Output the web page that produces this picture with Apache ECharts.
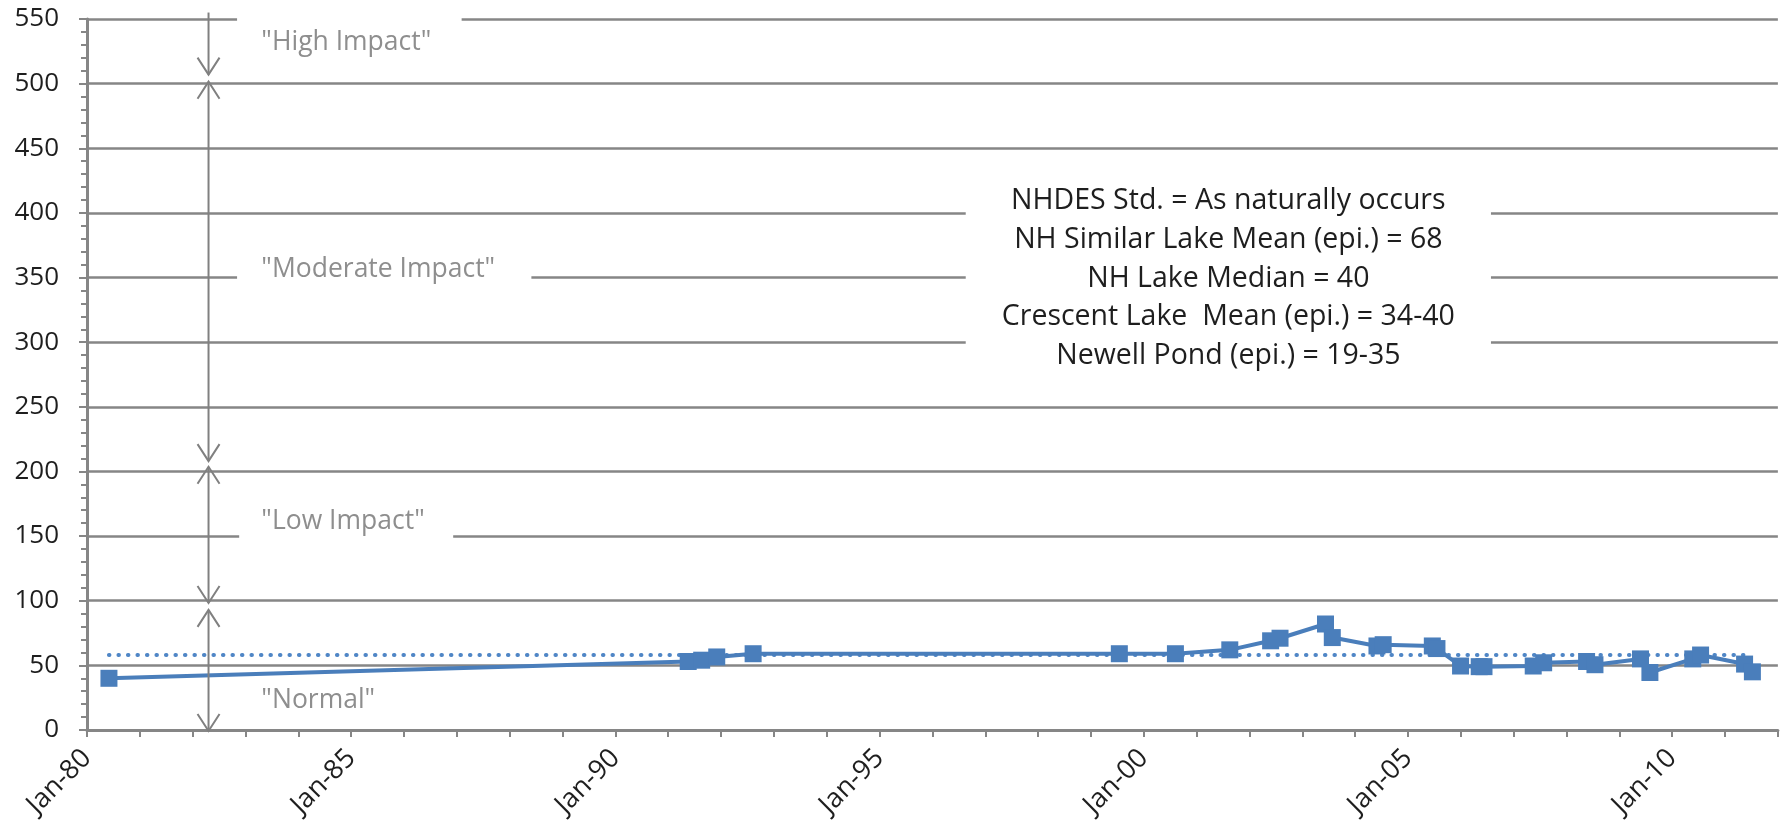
<!DOCTYPE html>
<html><head><meta charset="utf-8">
<script src="https://cdn.jsdelivr.net/npm/echarts@6/dist/echarts.min.js"></script>
<style>html,body{margin:0;padding:0;background:#fff}#c{width:1780px;height:835px}</style>
</head><body><div id="c"></div>
<script>
// ---- data ----
const sampleDates = ['1980-06-01','1991-05-19','1991-08-20','1991-12-02','1992-08-10','1999-07-16','2000-08-07','2001-08-18','2002-05-27','2002-07-31','2003-06-10','2003-07-27','2004-05-31','2004-07-13','2005-06-18','2005-07-20','2005-12-30','2006-05-08','2006-06-10','2007-05-16','2007-07-27','2008-05-19','2008-07-16','2009-05-27','2009-07-31','2010-05-23','2010-07-16','2011-05-16','2011-07-09'];
const chlValues = [40,53,54,56.5,59,59,59,62,69,71,82,71.5,65,66,65,63,49.5,49,49,49.5,52,53,50.5,55,44.5,55,58,51,45];
const meanValue = 58;
const xLabelYears = [1980,1985,1990,1995,2000,2005,2010];
const noteLines = ['NHDES Std. = As naturally occurs','NH Similar Lake Mean (epi.) = 68','NH Lake Median = 40','Crescent Lake  Mean (epi.) = 34-40','Newell Pond (epi.) = 19-35'];
const impactLabels = ['"High Impact"','"Moderate Impact"','"Low Impact"','"Normal"'];

const FONT = '"Open Sans", "Noto Sans", sans-serif';
const GRID = '#868686';
const BLUE = '#4a7ebb';

function toYear(s){
  const d = Date.parse(s + 'T00:00:00Z');
  const y = new Date(d).getUTCFullYear();
  const a = Date.UTC(y,0,1), b = Date.UTC(y+1,0,1);
  return y + (d - a) / (b - a);
}

const chart = echarts.init(document.getElementById('c'), null, {renderer:'canvas'});
const seriesData = sampleDates.map((d,i)=>[toYear(d), chlValues[i]]);
const meanData = [[toYear(sampleDates[0]), meanValue],[toYear(sampleDates[sampleDates.length-1]), meanValue]];

chart.setOption({
  animation:false,
  backgroundColor:'#fff',
  grid:{left:87,right:0,top:19,bottom:105,containLabel:false},
  xAxis:{
    type:'value', min:1980, max:2012, interval:1,
    axisLine:{lineStyle:{color:GRID,width:3}},
    axisTick:{length:7,lineStyle:{color:GRID,width:2}},
    splitLine:{show:false},
    axisLabel:{rotate:45, margin:24, fontSize:27, fontFamily:FONT, color:'#1e1e1e',
      formatter:v=> xLabelYears.indexOf(v) >= 0 ? 'Jan-' + String(v).slice(2) : ''}
  },
  yAxis:{
    type:'value', min:0, max:550, interval:50,
    axisLine:{show:true,lineStyle:{color:GRID,width:3}},
    axisTick:{show:true,length:8,lineStyle:{color:GRID,width:2}},
    minorTick:{show:true,splitNumber:5,length:6,lineStyle:{color:GRID,width:2}},
    splitLine:{show:true,lineStyle:{color:GRID,width:2.5}},
    axisLabel:{fontSize:26, margin:28, fontFamily:FONT, color:'#1e1e1e'}
  },
  series:[
    {type:'line', data:meanData, symbol:'none', z:3,
     lineStyle:{color:'#4f86c6',width:4,type:[0.5,9],cap:'round'}},
    {type:'line', data:seriesData, symbol:'rect', symbolSize:17, z:4,
     lineStyle:{color:BLUE,width:4}, itemStyle:{color:BLUE}}
  ]
});

function px(x,y){ return chart.convertToPixel({gridIndex:0},[x,y]); }

const els = [];
// white boxes that hide gridlines behind annotation texts (value coords: x0,x1,yTop,yBottom)
const boxes = [[1982.84,1987.09,557,511],[1982.84,1988.41,371.5,336.7],[1982.88,1986.93,178,143],[1996.63,2006.57,433,267]];
boxes.forEach(b=>{
  const p0 = px(b[0],b[2]), p1 = px(b[1],b[3]);
  els.push({type:'rect', z:10, shape:{x:p0[0],y:p0[1],width:p1[0]-p0[0],height:p1[1]-p0[1]}, style:{fill:'#fff'}});
});
// arrows
const arrowX = 1982.3;
const arrowSegs = [[555,507,false,true],[501.5,208,true,true],[203.6,98.3,true,true],[92.9,-0.8,true,true]];
arrowSegs.forEach(s=>{
  const a = px(arrowX,s[0]), b = px(arrowX,s[1]);
  els.push({type:'line', z:11, shape:{x1:a[0],y1:a[1],x2:b[0],y2:b[1]}, style:{stroke:'#808080',lineWidth:2}});
  if(s[2]) els.push({type:'polyline', z:11, shape:{points:[[a[0]-11,a[1]+17],[a[0],a[1]],[a[0]+11,a[1]+17]]}, style:{stroke:'#808080',lineWidth:2,fill:null}});
  if(s[3]) els.push({type:'polyline', z:11, shape:{points:[[b[0]-11,b[1]-17],[b[0],b[1]],[b[0]+11,b[1]-17]]}, style:{stroke:'#808080',lineWidth:2,fill:null}});
});
// impact labels
const impactPos = [[1983.3,531.7],[1983.3,356],[1983.3,161],[1983.3,23.2]];
impactLabels.forEach((t,i)=>{
  const p = px(impactPos[i][0], impactPos[i][1]);
  els.push({type:'text', z:12, x:p[0], y:p[1], style:{text:t, fill:'#8e8e8e', font:'26.5px ' + FONT, align:'left', verticalAlign:'middle'}});
});
// note box
const noteCenter = [2001.6, 409];
const nc = px(noteCenter[0], noteCenter[1]);
noteLines.forEach((t,i)=>{
  els.push({type:'text', z:12, x:nc[0], y:nc[1] + i*38.7, style:{text:t, fill:'#1e1e1e', font:'28.5px ' + FONT, align:'center', verticalAlign:'middle'}});
});
chart.setOption({graphic:{elements:els}});
</script></body></html>
